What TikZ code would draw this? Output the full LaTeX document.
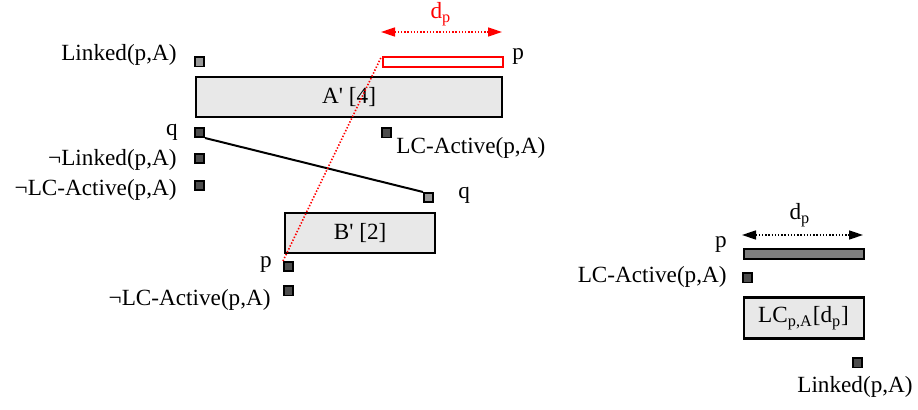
\documentclass[tikz,border=0pt]{standalone}
\usepackage{fontspec}
\setmainfont{Liberation Serif}
\usetikzlibrary{arrows.meta}
\definecolor{lkDark}{HTML}{4D4D4D}
\definecolor{lkMid}{HTML}{7F7F7F}
\definecolor{lkLight}{HTML}{999999}
\definecolor{lkBox}{HTML}{E8E8E8}
\definecolor{lkRed}{HTML}{FF0000}

\begin{document}
\begin{tikzpicture}[
  x=0.5pt, y=-0.5pt,
  font=\fontsize{11.6}{13}\selectfont,
  >={Triangle[length=7pt,width=4.5pt]},
  comp/.style={
    draw=black,
    fill=lkBox,
    line width=1.1pt,
    inner sep=0pt,
    anchor=north west
  },
  bar/.style={draw, line width=1pt, inner sep=0pt,
    minimum width=60pt, minimum height=4.6pt, anchor=north west},
  sq/.style={draw=black, line width=0.9pt, inner sep=0pt, minimum size=4.6pt},
  dk/.style={sq, fill=lkDark},
  lt/.style={sq, fill=lkLight},
  lab/.style={inner sep=0pt},
  dim/.style={<->, line width=0.8pt, dash pattern=on 0.7pt off 0.9pt}
]
  \useasboundingbox (0,0) rectangle (918,410);

  % left part: A' and B' with their flags
  \node[comp, minimum width=153pt, minimum height=19.8pt] (A) at (195,76) {A\textquotesingle\ [4]};
  \node[comp, minimum width=75pt, minimum height=20pt] (B) at (284,212) {B\textquotesingle\ [2]};
  \node[bar, draw=lkRed, fill=white] (pbar) at (381.5,56.5) {};

  \node[lt] (sLinked) at (199.5,62) {};
  \node[dk] (sQa) at (199.5,132.5) {};
  \node[dk] (sNLinked) at (199.5,158.5) {};
  \node[dk] (sNLCA) at (199.5,185.5) {};
  \node[dk] (sLCA) at (386.5,133) {};
  \node[lt] (sQb) at (428.5,197.5) {};
  \node[dk] (sP) at (288.5,266.5) {};
  \node[dk] (sNLCAb) at (288.5,291) {};

  \node[lab, anchor=east] (tLinked) at (177,55) {Linked(p,A)};
  \node[lab, anchor=east] (tQa) at (178,132) {q};
  \node[lab, anchor=east] (tNLinked) at (177,160) {¬Linked(p,A)};
  \node[lab, anchor=east] (tNLCA) at (177,190) {¬LC-Active(p,A)};
  \node[lab, anchor=west] (tLCA) at (396,148) {LC-Active(p,A)};
  \node[lab, anchor=west] (tPa) at (512,57) {p};
  \node[lab, anchor=west] (tQb) at (458,195) {q};
  \node[lab, anchor=east] (tP) at (272,265) {p};
  \node[lab, anchor=east] (tNLCAb) at (271,300) {¬LC-Active(p,A)};

  \coordinate (dl) at (381,32);
  \coordinate (dr) at (502,32);
  \draw[dim, lkRed] (dl) -- (dr);
  \node[lab, text=lkRed] (tdp) at (441,14) {d\textsubscript{p}};

  \draw[line width=1pt] (sQa.south east) -- (sQb.north west);
  \draw[lkRed, line width=0.8pt, dash pattern=on 0.7pt off 0.9pt] (sP.north west) -- (pbar.north west);

  % right part: the LC component
  \node[bar, fill=lkMid] (gbar) at (742.5,248.5) {};
  \node[comp, minimum width=60pt, minimum height=20.5pt] (LC) at (742.5,296.5) {LC\textsubscript{p,A}[d\textsubscript{p}]};
  \node[dk] (sLCAr) at (747.5,278) {};
  \node[dk] (sLinkedr) at (857.5,363) {};

  \node[lab, anchor=east] (tPr) at (727,245) {p};
  \node[lab, anchor=east] (tLCAr) at (727,277) {LC-Active(p,A)};
  \node[lab] (tLinkedr) at (855,387) {Linked(p,A)};

  \coordinate (el) at (742,235);
  \coordinate (er) at (863,235);
  \draw[dim] (el) -- (er);
  \node[lab] (tdpr) at (800,215) {d\textsubscript{p}};
\end{tikzpicture}
\end{document}
